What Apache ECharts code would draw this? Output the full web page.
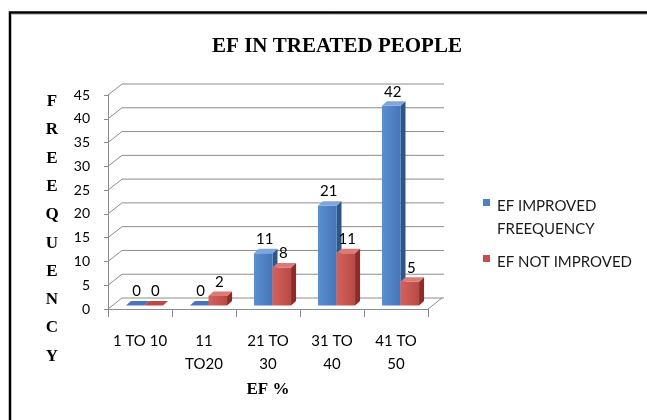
<!DOCTYPE html>
<html>
<head>
<meta charset="utf-8">
<script src="https://cdn.jsdelivr.net/npm/echarts@6/dist/echarts.min.js"></script>
<style>
  html, body { margin: 0; padding: 0; background: #fff; }
  #chart { width: 647px; height: 420px; }
</style>
</head>
<body>
<div id="chart"></div>
<script>
// EF ranges on the category axis
const categories = ['1 TO 10', '11\nTO20', '21 TO\n30', '31 TO\n40', '41 TO\n50'];
// frequencies per EF range
const improved = [0, 0, 11, 21, 42];
const notImproved = [0, 2, 8, 11, 5];
// value axis ticks
const valueTicks = [0, 5, 10, 15, 20, 25, 30, 35, 40, 45];
const seriesNames = ['EF IMPROVED\nFREEQUENCY', 'EF NOT IMPROVED'];

// pseudo-3D geometry (pixels)
const WALL_DX = 14, WALL_DY = -11;   // front plane -> back wall
const BAR_DX = 4.5, BAR_DY = -3.5;   // front plane -> bar plane
const DEPTH_DX = 5, DEPTH_DY = -4.5; // bar thickness
const BAR_FRAC = 0.29;
const LABEL_FONT = 'Lato, "Open Sans", sans-serif';

const palettes = [
  { front: ['#5b8fd2', '#4676b7'], side: '#2e5789', top: '#7ea6dc' },
  { front: ['#d3625e', '#bb4946'], side: '#8a2c29', top: '#dc7a76' }
];

const chart = echarts.init(document.getElementById('chart'), null, { renderer: 'canvas' });

// back wall gridline plus the receding line on the left wall, for one tick value
function frameItem(params, api) {
  const v = api.value(1);
  const p = api.coord([0, v]);
  const bw = api.size([1, 0])[0];
  const x0 = p[0] - bw / 2;
  const xEnd = api.coord([categories.length - 1, v])[0] + bw / 2;
  const y = p[1];
  const style = { stroke: '#8c8c8c', lineWidth: 1 };
  const children = [
    { type: 'line', shape: { x1: x0 + WALL_DX, y1: y + WALL_DY, x2: xEnd + WALL_DX + 2, y2: y + WALL_DY }, style },
    { type: 'line', shape: { x1: x0, y1: y, x2: x0 + WALL_DX, y2: y + WALL_DY }, style }
  ];
  if (v === 0) {
    children.push({ type: 'line', shape: { x1: xEnd, y1: y, x2: xEnd + WALL_DX, y2: y + WALL_DY }, style });
  }
  return { type: 'group', children };
}

// one box-shaped bar: side face, front face, top face and its value label
function barItem(sIdx) {
  return function (params, api) {
    const i = api.value(0);
    const v = api.value(1);
    const base = api.coord([i, 0]);
    const topP = api.coord([i, v]);
    const bw = api.size([1, 0])[0];
    const barW = bw * BAR_FRAC;
    const cx = base[0] + BAR_DX;
    const left = sIdx === 0 ? cx - barW : cx;
    const right = left + barW;
    const yb = base[1] + BAR_DY;
    const yt = topP[1] + BAR_DY;
    const pal = palettes[sIdx];
    const children = [];
    if (v > 0) {
      children.push({
        type: 'polygon',
        shape: { points: [[right, yt], [right + DEPTH_DX, yt + DEPTH_DY], [right + DEPTH_DX, yb + DEPTH_DY], [right, yb]] },
        style: { fill: pal.side }
      });
      children.push({
        type: 'rect',
        shape: { x: left, y: yt, width: barW, height: yb - yt },
        style: {
          fill: new echarts.graphic.LinearGradient(0, 0, 1, 0, [
            { offset: 0, color: pal.front[0] },
            { offset: 1, color: pal.front[1] }
          ])
        }
      });
    }
    children.push({
      type: 'polygon',
      shape: { points: [[left, yt], [right, yt], [right + DEPTH_DX, yt + DEPTH_DY], [left + DEPTH_DX, yt + DEPTH_DY]] },
      style: { fill: v > 0 ? pal.top : pal.front[1] }
    });
    children.push({
      type: 'text',
      style: {
        text: String(v),
        x: left + barW / 2 + 1.5,
        y: yt + DEPTH_DY - 2,
        textAlign: 'center',
        textVerticalAlign: 'bottom',
        fill: '#000',
        font: '15px ' + LABEL_FONT
      }
    });
    return { type: 'group', children };
  };
}

const option = {
  backgroundColor: '#fff',
  animation: false,
  title: {
    text: 'EF IN TREATED PEOPLE',
    left: 332,
    top: 31,
    textAlign: 'center',
    textStyle: { fontFamily: '"Liberation Serif", "Times New Roman", serif', fontWeight: 'bold', fontSize: 21, color: '#000' }
  },
  grid: { left: 108, right: 219, top: 95, bottom: 111 },
  xAxis: {
    type: 'category',
    data: categories,
    name: 'EF %',
    nameLocation: 'middle',
    nameGap: 69,
    nameTextStyle: { fontFamily: '"Liberation Serif", serif', fontWeight: 'bold', fontSize: 17, color: '#000', verticalAlign: 'top' },
    axisLine: { lineStyle: { color: '#8c8c8c' } },
    axisTick: { show: true, length: 8, lineStyle: { color: '#8c8c8c' } },
    axisLabel: { interval: 0, margin: 21, color: '#000', fontFamily: LABEL_FONT, fontSize: 15, lineHeight: 23, verticalAlign: 'top' },
    splitLine: { show: false }
  },
  yAxis: {
    type: 'value',
    min: 0,
    max: 45,
    interval: 5,
    axisLine: { show: true, lineStyle: { color: '#8c8c8c' } },
    axisTick: { show: true, length: 4, lineStyle: { color: '#8c8c8c' } },
    axisLabel: { margin: 18, color: '#000', fontFamily: LABEL_FONT, fontSize: 14 },
    splitLine: { show: false }
  },
  graphic: [
    { type: 'polyline', shape: { points: [[10, 420], [10, 12.5], [647, 12.5]] }, style: { stroke: '#000', lineWidth: 2.5, fill: null } },
    { type: 'line', shape: { x1: 12, y1: 14.5, x2: 647, y2: 14.5 }, style: { stroke: '#c8c8c8', lineWidth: 1 } },
    {
      type: 'text',
      style: {
        text: 'F\nR\nE\nE\nQ\nU\nE\nN\nC\nY',
        x: 52, y: 229,
        textAlign: 'center', textVerticalAlign: 'middle',
        lineHeight: 28.3,
        font: 'bold 17px "Liberation Serif", serif',
        fill: '#000'
      }
    },
    { type: 'rect', shape: { x: 483, y: 199, width: 7, height: 7 }, style: { fill: '#4f81bd' } },
    {
      type: 'text',
      style: { text: seriesNames[0], x: 497, y: 195, lineHeight: 22.6, font: '15px ' + LABEL_FONT, fill: '#1a1a1a', textVerticalAlign: 'top' }
    },
    { type: 'rect', shape: { x: 483, y: 255, width: 7, height: 7 }, style: { fill: '#c0504d' } },
    {
      type: 'text',
      style: { text: seriesNames[1], x: 497, y: 250.5, lineHeight: 22.6, font: '15px ' + LABEL_FONT, fill: '#1a1a1a', textVerticalAlign: 'top' }
    }
  ],
  series: [
    {
      type: 'custom',
      name: 'walls',
      silent: true,
      clip: false,
      z: 1,
      data: valueTicks.map(v => [0, v]),
      renderItem: frameItem
    },
    {
      type: 'custom',
      name: seriesNames[0],
      clip: false,
      z: 3,
      data: improved.map((v, i) => [i, v]),
      renderItem: barItem(0)
    },
    {
      type: 'custom',
      name: seriesNames[1],
      clip: false,
      z: 4,
      data: notImproved.map((v, i) => [i, v]),
      renderItem: barItem(1)
    }
  ]
};

chart.setOption(option);
</script>
</body>
</html>
